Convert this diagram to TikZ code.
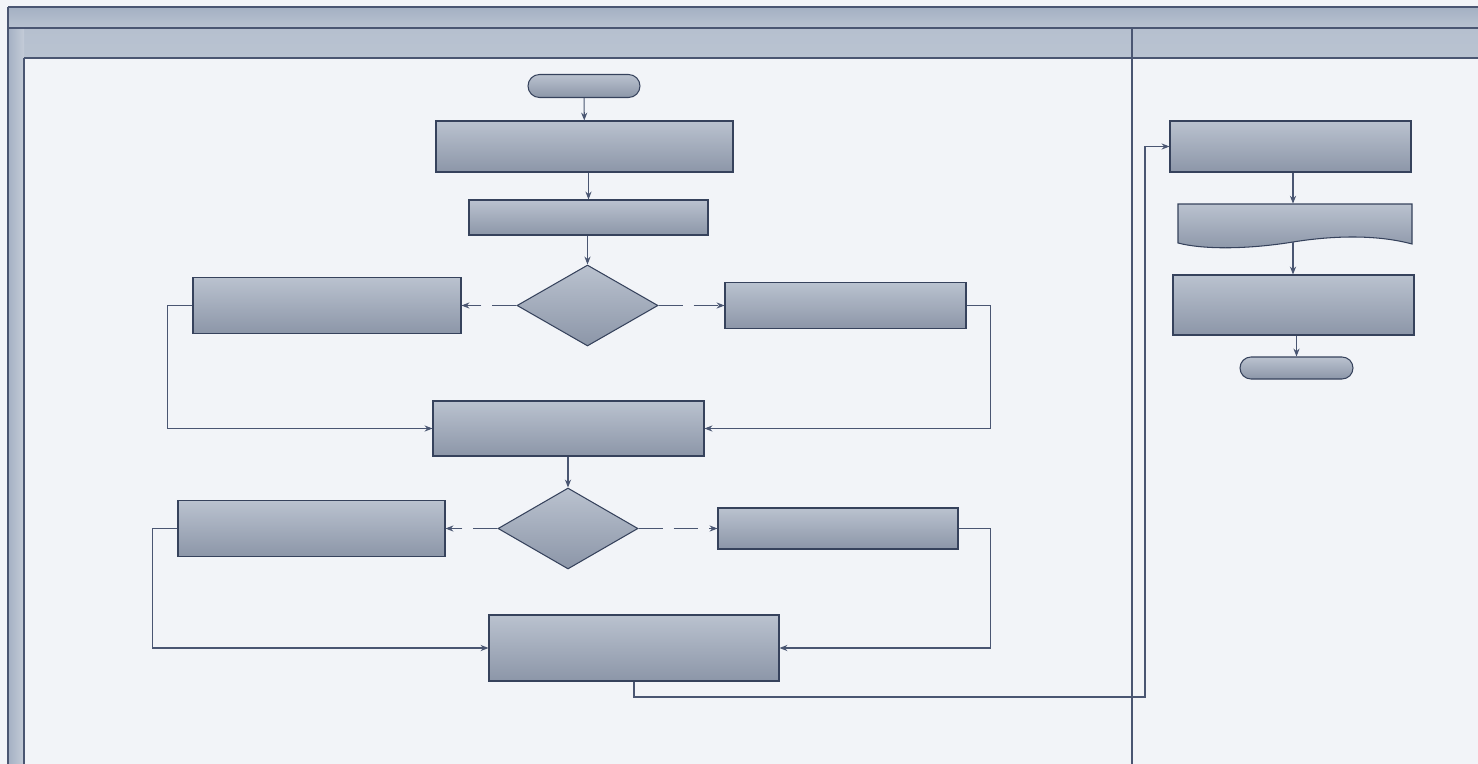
\documentclass[tikz,border=0pt]{standalone}
\usetikzlibrary{shapes.geometric,shapes.misc,arrows.meta}

\definecolor{pagebg}{HTML}{F2F4F8}
\definecolor{boxtop}{HTML}{BAC2CF}
\definecolor{boxbot}{HTML}{8C96A8}
\definecolor{edge}{HTML}{36425C}
\definecolor{wire}{HTML}{4A5672}
\definecolor{bandtop}{HTML}{A4B0C3}
\definecolor{bandbot}{HTML}{B9C3D1}
\definecolor{bandtwo}{HTML}{B6C0CF}
\definecolor{barmid}{HTML}{C4CCD8}

\tikzset{
  sz/.style 2 args={minimum width=#1*0.02cm, minimum height=#2*0.02cm},
  shaded/.style={draw=edge, line width=0.6pt, top color=boxtop, bottom color=boxbot, inner sep=0pt},
  procbox/.style={rectangle, shaded},
  termbox/.style={rounded rectangle, shaded},
  decbox/.style={diamond, shaded},
  flow/.style={draw=wire, line width=0.6pt, -{Stealth[length=4.5pt,width=3.5pt]}},
  altflow/.style={flow, dash pattern=on 14pt off 6pt},
  frameline/.style={draw=wire, line width=0.9pt}
}

\begin{document}
\begin{tikzpicture}[x=0.02cm, y=-0.02cm]
  % page
  \fill[pagebg] (0,0) rectangle (1478,764);
  \useasboundingbox (0,0) rectangle (1478,764);

  % pool header bands and lane frame
  \shade[top color=bandtop, bottom color=bandbot] (8,7) rectangle (1478,28);
  \shade[top color=bandtwo, bottom color=bandbot] (8,28) rectangle (1478,58);
  \shade[left color=bandtop, right color=barmid] (8,28) rectangle (24,764);
  \draw[frameline] (8,7) -- (1478,7);
  \draw[frameline] (8,28) -- (1478,28);
  \draw[frameline] (24,58) -- (1478,58);
  \draw[frameline] (8,7) -- (8,764);
  \draw[frameline] (24,58) -- (24,764);
  \draw[draw=wire, line width=0.6pt] (1132,28) -- (1132,764);

  % left lane: main flow
  \node[termbox, sz={112}{23}] (start) at (584,86) {};
  \node[procbox, sz={297}{51}] (b1) at (584.5,146.5) {};
  \node[procbox, sz={239}{35}] (b2) at (588.5,217.5) {};
  \node[decbox, sz={141}{81}] (d1) at (587.5,305.5) {};
  \node[procbox, sz={268}{56}] (l1) at (327,305.5) {};
  \node[procbox, sz={241}{46}] (r1) at (845.5,305.5) {};
  \node[procbox, sz={271}{55}] (b3) at (568.5,428.5) {};
  \node[decbox, sz={140}{81}] (d2) at (568,528.5) {};
  \node[procbox, sz={267}{56}] (l2) at (311.5,528.5) {};
  \node[procbox, sz={240}{41}] (r2) at (838,528.5) {};
  \node[procbox, sz={290}{66}] (b4) at (634,648) {};

  % right lane
  \node[procbox, sz={241}{51}] (rb1) at (1290.5,146.5) {};
  \node[sz={234}{40}, inner sep=0pt] (rb2) at (1295,224) {};
  \draw[shaded] (1178,204) -- (1412,204) -- (1412,244)
    .. controls (1375,234) and (1330,236) .. (1293,242)
    .. controls (1250,249) and (1205,250) .. (1178,243) -- cycle;
  \coordinate (rb2b) at (1293,242);
  \node[procbox, sz={241}{60}] (rb3) at (1293.5,305) {};
  \node[termbox, sz={113}{22}] (finish) at (1296.5,368) {};

  % connectors
  \draw[flow] (start) -- (b1);
  \draw[flow] (b2.north |- b1.south) -- (b2.north);
  \draw[flow] (d1.north |- b2.south) -- (d1.north);
  \draw[altflow] (d1.west) -- (l1.east);
  \draw[altflow] (d1.east) -- (r1.west);
  \draw[flow] (l1.west) -- ++(-25,0) |- (b3.west);
  \draw[flow] (r1.east) -- ++(24,0) |- (b3.east);
  \draw[flow] (d2.north |- b3.south) -- (d2.north);
  \draw[altflow] (d2.west) -- (l2.east);
  \draw[altflow] (d2.east) -- (r2.west);
  \draw[flow] (l2.west) -- ++(-25,0) |- (b4.west);
  \draw[flow] (r2.east) -- ++(32,0) |- (b4.east);
  \coordinate (bend) at (1145,697);
  \draw[flow] (b4.south) |- (bend) |- (rb1.west);
  \draw[flow] (rb2b |- rb1.south) -- (rb2b |- rb2.north);
  \draw[flow] (rb2b) -- (rb2b |- rb3.north);
  \draw[flow] (finish.north |- rb3.south) -- (finish.north);
\end{tikzpicture}
\end{document}
